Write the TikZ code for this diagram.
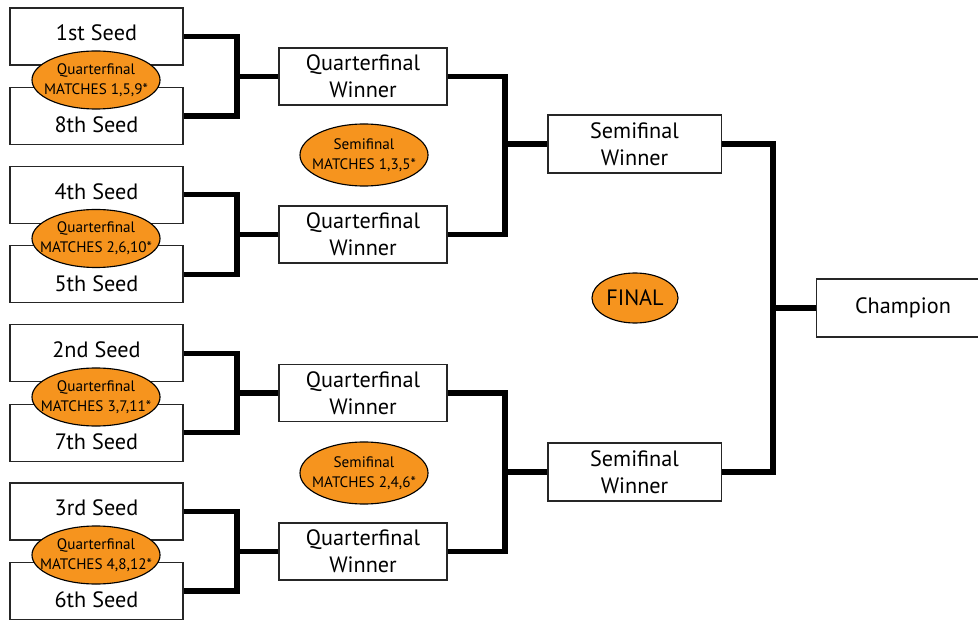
\documentclass[tikz,border=0pt]{standalone}
\usepackage{fontspec}
\setmainfont{PT Sans}
\usetikzlibrary{shapes.geometric}
\definecolor{matchorange}{RGB}{246,148,30}

\begin{document}
\begin{tikzpicture}[
  x=0.025cm, y=-0.025cm,
  font=\fontsize{15.8}{19}\selectfont,
  seed/.style={draw=black!85, line width=0.9pt, minimum width=4.325cm, minimum height=1.425cm,
               inner sep=0pt, text height=11pt, text depth=0pt},
  seedhi/.style={seed, text depth=5pt},
  seedlo/.style={seed, text height=24pt},
  win/.style={draw=black!85, line width=0.9pt, minimum height=1.43cm, inner sep=0pt, align=center},
  qf/.style={win, minimum width=4.2cm},
  sf/.style={win, minimum width=4.33cm, minimum height=1.45cm},
  match/.style={ellipse, draw=black, line width=0.8pt, fill=matchorange, inner xsep=-20pt, inner ysep=-10pt,
                align=center, minimum width=3.2cm, minimum height=1.45cm, font=\fontsize{10.8}{14}\selectfont},
  edge/.style={draw=black, line width=3.6pt}
]
\clip (0,0) rectangle (978,622);
\node[seedhi] (s1) at (96.5,36.5) {1st Seed};
\node[seedlo] (s8) at (96.5,116) {8th Seed};
\node[seedhi] (s4) at (96.5,194.8) {4th Seed};
\node[seedlo] (s5) at (96.5,274.3) {5th Seed};
\node[seedhi] (s2) at (96.5,353.2) {2nd Seed};
\node[seedlo] (s7) at (96.5,432.7) {7th Seed};
\node[seedhi] (s3) at (96.5,511.5) {3rd Seed};
\node[seedlo] (s6) at (96.5,591) {6th Seed};
\node[qf] (q1) at (363,76.5) {Quarterfinal\\Winner};
\node[qf] (q2) at (363,234.5) {Quarterfinal\\Winner};
\node[qf] (q3) at (363,393) {Quarterfinal\\Winner};
\node[qf] (q4) at (363,551.5) {Quarterfinal\\Winner};
\node[sf] (sf1) at (634.5,144) {Semifinal\\Winner};
\node[sf] (sf2) at (634.5,472) {Semifinal\\Winner};
\node[sf] (champ) at (903,308) {Champion};
\coordinate (j1) at (237,76.5);
\coordinate (j2) at (237,234.5);
\coordinate (j3) at (237,393);
\coordinate (j4) at (237,551.5);
\coordinate (j5) at (505,144);
\coordinate (j6) at (505,472);
\coordinate (j7) at (773,308);
\draw[edge] (s1.east) -| (j1) |- (s8.east);
\draw[edge] (j1) -- (q1.west);
\draw[edge] (s4.east) -| (j2) |- (s5.east);
\draw[edge] (j2) -- (q2.west);
\draw[edge] (s2.east) -| (j3) |- (s7.east);
\draw[edge] (j3) -- (q3.west);
\draw[edge] (s3.east) -| (j4) |- (s6.east);
\draw[edge] (j4) -- (q4.west);
\draw[edge] (q1.east) -| (j5) |- (q2.east);
\draw[edge] (j5) -- (sf1.west);
\draw[edge] (q3.east) -| (j6) |- (q4.east);
\draw[edge] (j6) -- (sf2.west);
\draw[edge] (sf1.east) -| (j7) |- (sf2.east);
\draw[edge] (j7) -- (champ.west);
\node[match] (m1) at (96,80) {Quarterfinal\\MATCHES 1,5,9*};
\node[match] (m2) at (96,238.5) {Quarterfinal\\MATCHES 2,6,10*};
\node[match] (m3) at (96,397) {Quarterfinal\\MATCHES 3,7,11*};
\node[match] (m4) at (96,555) {Quarterfinal\\MATCHES 4,8,12*};
\node[match, minimum height=1.55cm] (semi1) at (364,155) {Semifinal\\MATCHES 1,3,5*};
\node[match, minimum height=1.55cm] (semi2) at (364,473) {Semifinal\\MATCHES 2,4,6*};
\node[match, minimum width=2.15cm, minimum height=1.25cm, font=\fontsize{15.8}{19}\selectfont] (final) at (635,298) {FINAL};
\end{tikzpicture}
\end{document}
